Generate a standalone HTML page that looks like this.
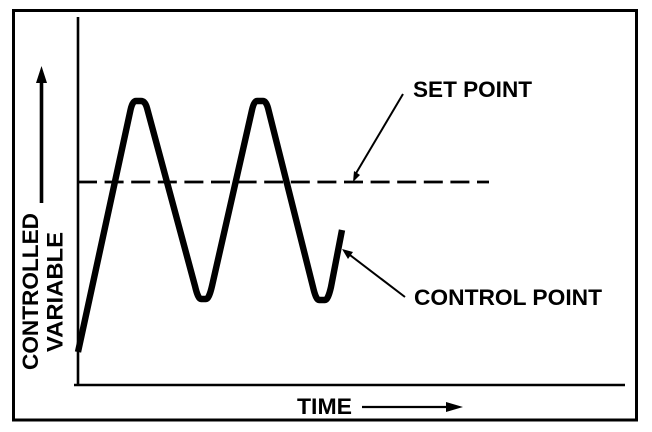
<!DOCTYPE html>
<html><head><meta charset="utf-8"><style>html,body{margin:0;padding:0;background:#fff}svg{display:block}</style></head>
<body>
<svg width="652" height="432" viewBox="0 0 652 432" xmlns="http://www.w3.org/2000/svg">
<rect width="652" height="432" fill="#fff"/>
<rect x="13.5" y="10.5" width="623" height="409.5" fill="none" stroke="#000" stroke-width="3"/>
<line x1="78" y1="17" x2="78" y2="386" stroke="#000" stroke-width="2.6"/>
<line x1="74" y1="385" x2="625" y2="385" stroke="#000" stroke-width="2.4"/>
<line x1="78" y1="182" x2="489" y2="182" stroke="#000" stroke-width="2.800" stroke-dasharray="19 7.6"/>
<path d="M78 352 L130.500 110 Q132.500 101 136 101 L141 101 Q145 101 147 108 L195 286 Q198 299 201 299 L206 299 Q209 299 212 286 L252 110 Q254 101 257 101 L263 101 Q266 101 268 108 L313 287 Q316 300 319 300 L325 300 Q328 300 331 287 L342 230" fill="none" stroke="#000" stroke-width="6.400"/>
<path d="M78 356 L78 335 L86 325 Z" fill="#000"/>
<line x1="41.500" y1="203" x2="41.500" y2="80" stroke="#000" stroke-width="3.600"/>
<path d="M41.500 66 L47 83 L36 83 Z" fill="#000"/>
<line x1="403" y1="94" x2="355" y2="175" stroke="#000" stroke-width="2"/>
<path d="M353 182 L354 171 L360 175 Z" fill="#000"/>
<line x1="405" y1="297" x2="346" y2="252" stroke="#000" stroke-width="2"/>
<path d="M342 249 L353 252 L348 259 Z" fill="#000"/>
<line x1="362" y1="407" x2="450" y2="407" stroke="#000" stroke-width="2.200"/>
<path d="M463 407 L446 402 L446 412 Z" fill="#000"/>
<g font-family="'Liberation Sans',sans-serif" font-weight="700" fill="#000" font-size="22">
<text x="413" y="97" textLength="119" lengthAdjust="spacingAndGlyphs">SET POINT</text>
<text x="414" y="305" textLength="188" lengthAdjust="spacingAndGlyphs">CONTROL POINT</text>
<text x="297" y="414" textLength="55" lengthAdjust="spacingAndGlyphs">TIME</text>
<text transform="translate(38 370) rotate(-90)" textLength="157" lengthAdjust="spacingAndGlyphs">CONTROLLED</text>
<text transform="translate(62.500 352) rotate(-90)" textLength="120" lengthAdjust="spacingAndGlyphs">VARIABLE</text>
</g>
</svg>
</body></html>
